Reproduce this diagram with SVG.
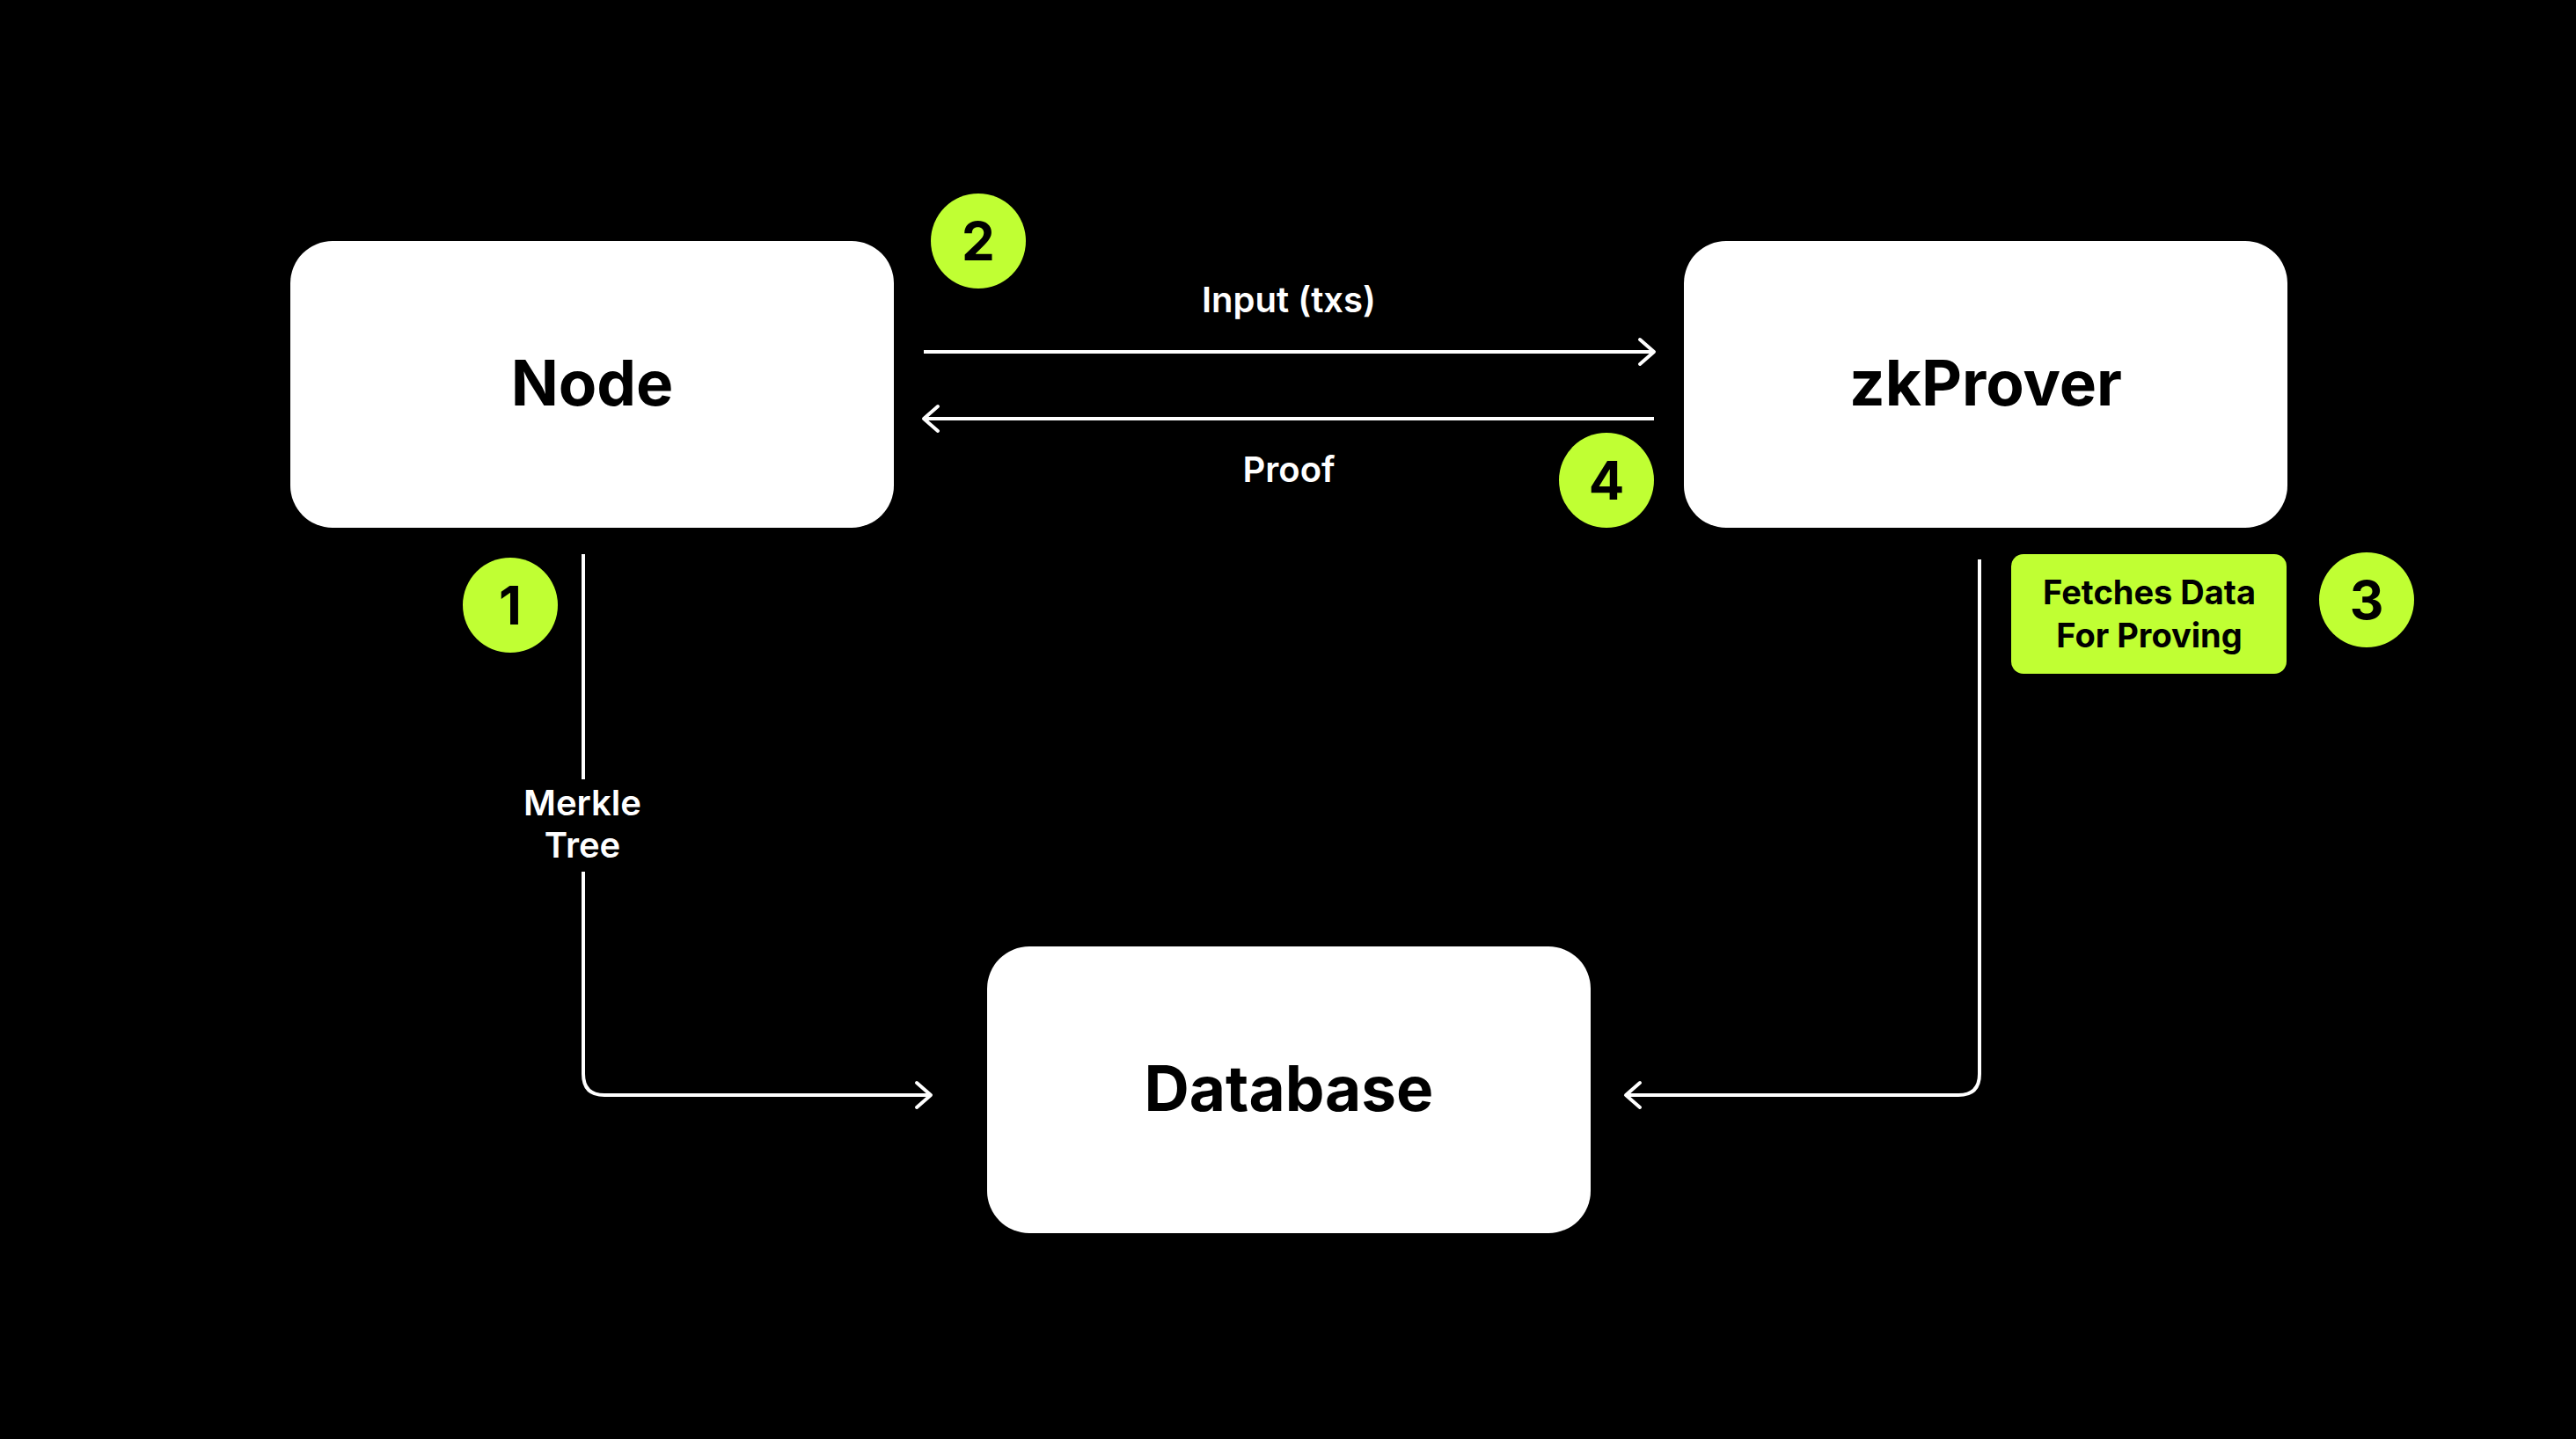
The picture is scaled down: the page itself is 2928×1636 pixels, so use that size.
<svg xmlns="http://www.w3.org/2000/svg" width="2928" height="1636" viewBox="0 0 2928 1636">
<defs>
<style>
.node{fill:#ffffff}
.title{font-family:Inter,"Noto Sans","Liberation Sans",sans-serif;font-weight:700;font-size:71px;fill:#000;text-anchor:middle}
.lbl{font-family:Inter,"Noto Sans","Liberation Sans",sans-serif;font-weight:600;font-size:40px;fill:#fff;text-anchor:middle}
.badge{fill:#C0FF33}
.num{font-family:Inter,"Noto Sans","Liberation Sans",sans-serif;font-weight:700;font-size:60px;fill:#000;text-anchor:middle}
.note{font-family:Inter,"Noto Sans","Liberation Sans",sans-serif;font-weight:700;font-size:38px;fill:#000;text-anchor:middle}
.conn{fill:none;stroke:#fff;stroke-width:4;marker-end:url(#arr)}
</style>
<marker id="arr" markerUnits="userSpaceOnUse" markerWidth="44" markerHeight="44" viewBox="-22 -22 44 44" refX="0" refY="0" orient="auto">
<path d="M-16 -14 L0 0 L-16 14" fill="none" stroke="#fff" stroke-width="4" stroke-linecap="round" stroke-linejoin="round"/>
</marker>
</defs>
<rect width="2928" height="1636" fill="#000"/>
<g id="connectors">
<path class="conn" d="M1050 400 H1880"/>
<path class="conn" d="M1880 476 H1050"/>
<path class="conn" d="M663 630 V886 M663 991 V1221 Q663 1245 687 1245 H1058"/>
<path class="conn" d="M2250 636 V1221 Q2250 1245 2226 1245 H1848"/>
<text class="lbl" x="1465" y="355">Input (txs)</text>
<text class="lbl" x="1465" y="548">Proof</text>
<text class="lbl" x="662" y="927">Merkle</text>
<text class="lbl" x="662" y="975">Tree</text>
</g>
<g id="node-node">
<rect class="node" x="330" y="274" width="686" height="326" rx="48"/>
<text class="title" x="673" y="461">Node</text>
</g>
<g id="node-zkprover">
<rect class="node" x="1914" y="274" width="686" height="326" rx="48"/>
<text class="title" x="2257" y="461">zkProver</text>
</g>
<g id="node-database">
<rect class="node" x="1122" y="1076" width="686" height="326" rx="48"/>
<text class="title" x="1465" y="1263">Database</text>
</g>
<g id="note-fetches">
<rect class="badge" x="2286" y="630" width="313" height="136" rx="14"/>
<text class="note" x="2443" y="687">Fetches Data</text>
<text class="note" x="2443" y="736">For Proving</text>
</g>
<g id="badge-1">
<circle class="badge" cx="580" cy="688" r="54"/>
<text class="num" x="580" y="710">1</text>
</g>
<g id="badge-2">
<circle class="badge" cx="1112" cy="274" r="54"/>
<text class="num" x="1112" y="296">2</text>
</g>
<g id="badge-3">
<circle class="badge" cx="2690" cy="682" r="54"/>
<text class="num" x="2690" y="704">3</text>
</g>
<g id="badge-4">
<circle class="badge" cx="1826" cy="546" r="54"/>
<text class="num" x="1826" y="568">4</text>
</g>
</svg>
